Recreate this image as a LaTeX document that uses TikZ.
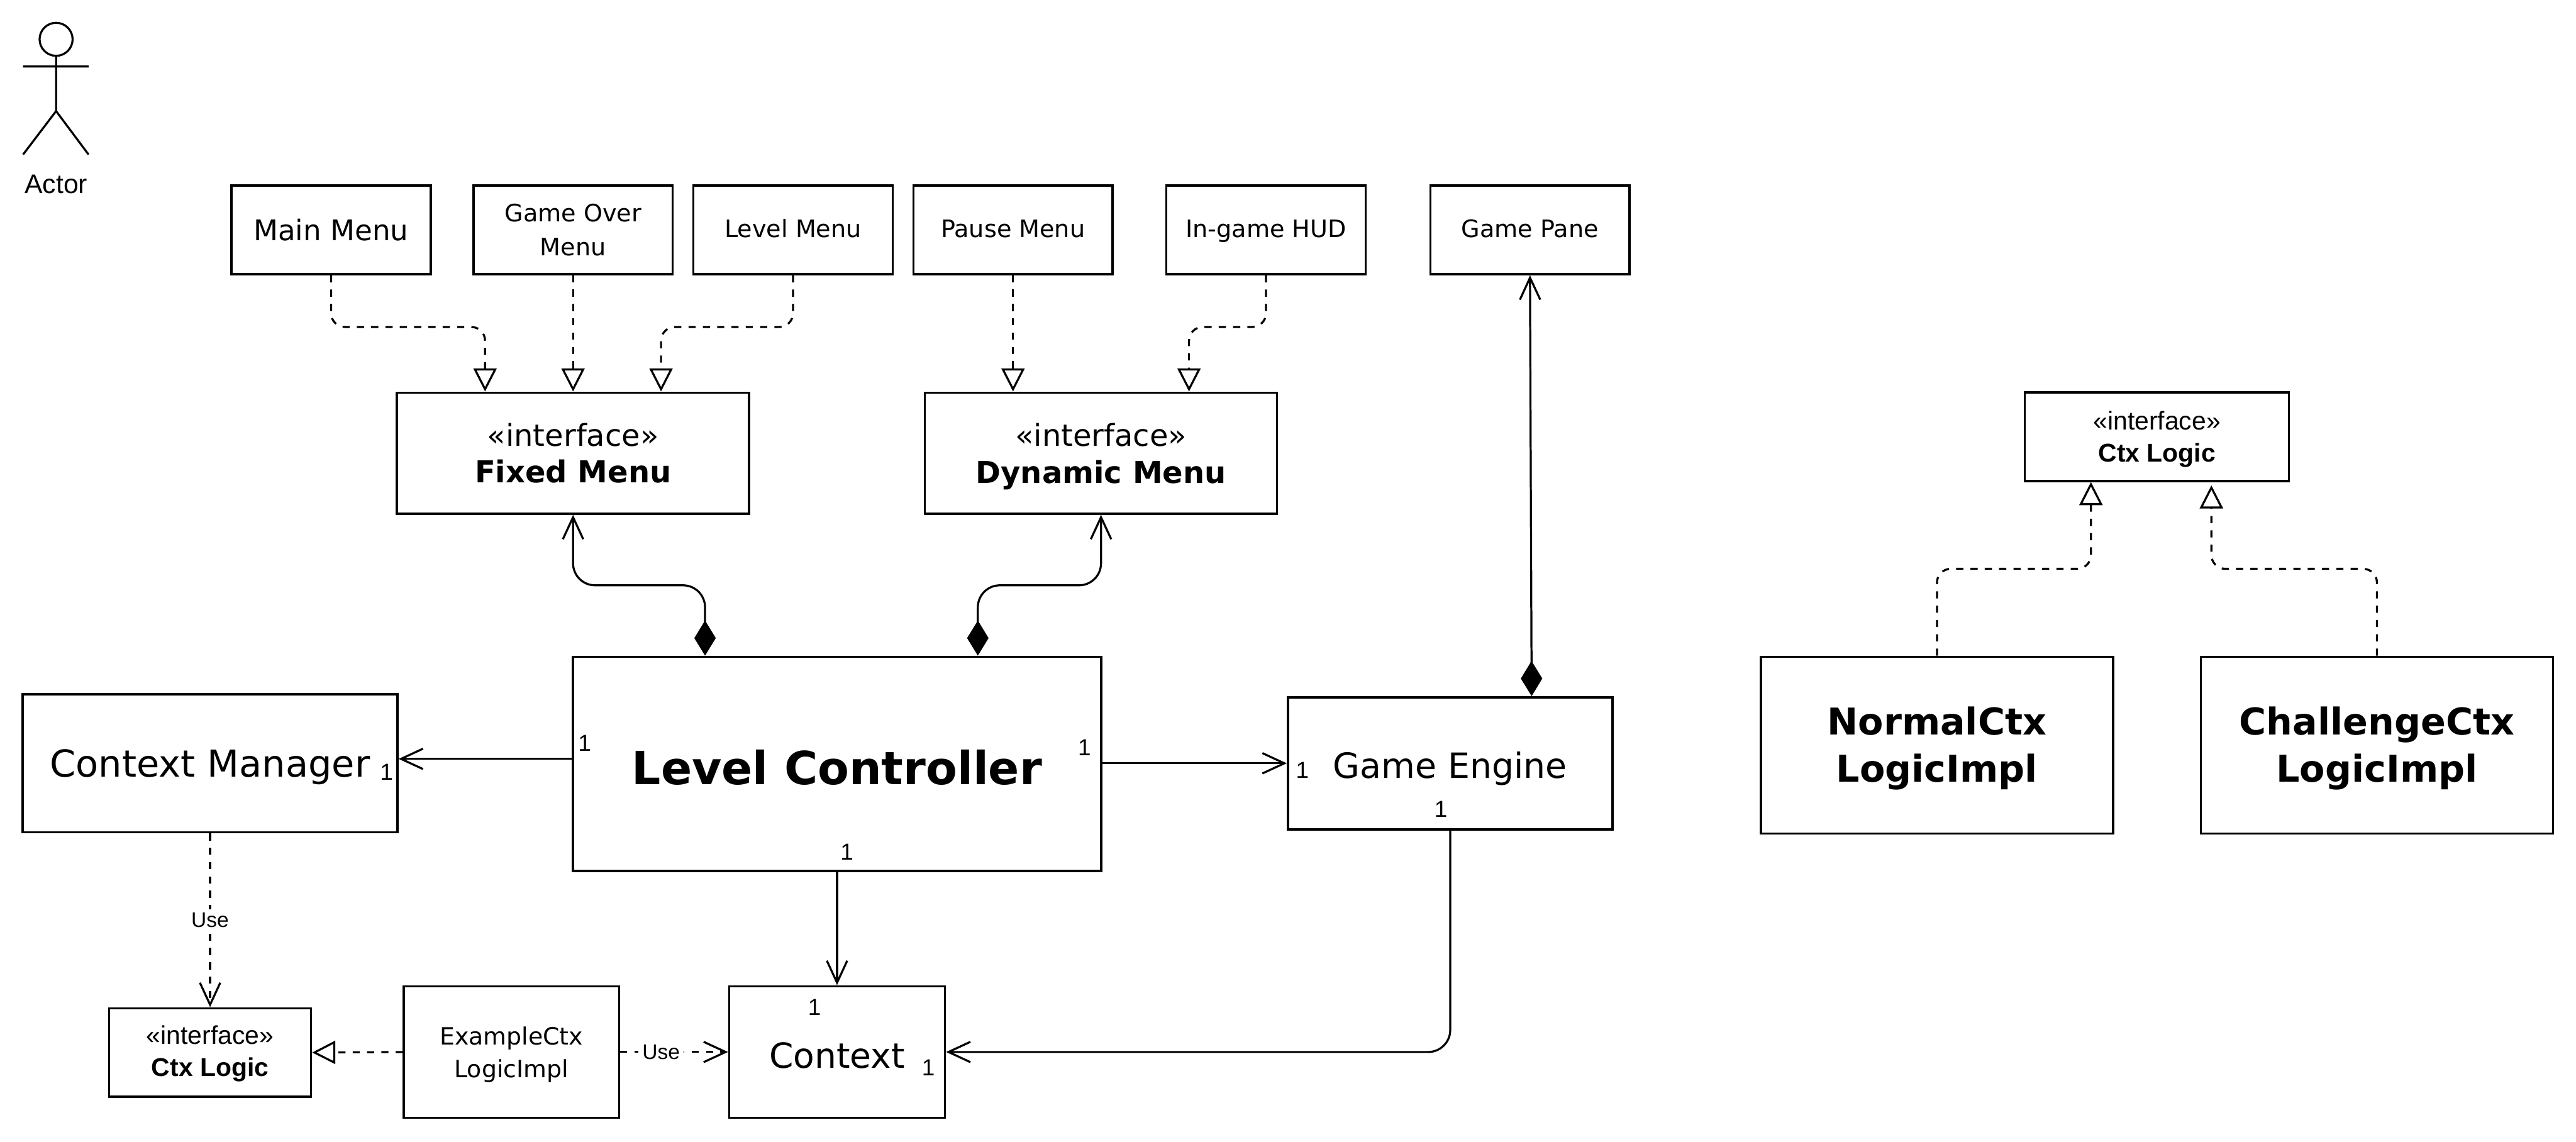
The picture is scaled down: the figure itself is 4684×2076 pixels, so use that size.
\documentclass[tikz,border=0pt]{standalone}
\usepackage{fontspec}
\setmainfont{DejaVu Sans}
\newfontfamily\arialfont{Liberation Sans}
\usetikzlibrary{arrows.meta, calc}

\tikzset{
  box/.style={draw, line width=1.15pt, inner sep=0pt, align=center, text centered},
  smallbox/.style={box, minimum width=3.62cm, minimum height=1.61cm, font=\fontsize{12.4}{17.3}\selectfont},
  oneline/.style={text height=9.4pt, text depth=1.5pt},
  midbox/.style={box, minimum width=6.4cm, minimum height=2.2cm, font=\fontsize{15.6}{19}\selectfont},
  ctxbox/.style={box, minimum height=1.61cm, font=\arialfont\fontsize{13.3}{16.8}\selectfont},
  implbox/.style={box, minimum width=6.4cm, minimum height=3.21cm, text depth=1pt,
    font=\bfseries\fontsize{19.1}{24.5}\selectfont},
  mult/.style={font=\arialfont\fontsize{12}{14}\selectfont, inner sep=0pt},
  uselabel/.style={font=\arialfont\fontsize{10.9}{13}\selectfont, fill=white, inner sep=2pt},
  assoc/.style={line width=1.05pt, -{Straight Barb[length=4mm, width=3.7mm]}},
  comp/.style={line width=1.05pt, rounded corners=.4cm,
    {Diamond[length=6.4mm, width=3.9mm]}-{Straight Barb[length=4mm, width=3.7mm]}},
  depend/.style={line width=1.05pt, dash pattern=on 3.7pt off 3.7pt, -{Straight Barb[length=4mm, width=3.7mm]}},
  realize/.style={line width=1.05pt, dash pattern=on 3.7pt off 3.7pt, rounded corners=.25cm,
    -{Triangle[open, fill=white, length=4.2mm, width=4.2mm]}},
}

\begin{document}
\begin{tikzpicture}[x=0.01cm, y=-0.01cm]
\useasboundingbox (0,0) rectangle (4684,2076);

% --- Actor ---
\draw[line width=1.05pt] (102,71.5) circle (.3cm);
\draw[line width=1.05pt] (102,102) -- (102,202) (42,121) -- (161,121)
  (42,281) -- (102,202) -- (161,281);
\node[font=\arialfont\fontsize{13.9}{16}\selectfont, inner sep=0pt] (actor) at (102,335) {Actor};

% --- Top row ---
\node[smallbox, font=\fontsize{14.7}{19}\selectfont] (mainmenu) at (602,418) {Main Menu};
\node[smallbox] (gameover) at (1042,418) {Game Over\\Menu};
\node[smallbox, oneline] (levelmenu) at (1442,418) {Level Menu};
\node[smallbox, oneline] (pausemenu) at (1842,418) {Pause Menu};
\node[smallbox, oneline] (hud) at (2302,418) {In-game HUD};
\node[smallbox, oneline] (gamepane) at (2782,418) {Game Pane};

% --- Menu interfaces ---
\node[midbox] (fixedmenu) at (1042,824) {«interface»\\\textbf{Fixed Menu}};
\node[midbox, text depth=0pt] (dynmenu) at (2002,824) {«interface»\\\textbf{Dynamic Menu}};

% --- Main row ---
\node[box, minimum width=9.6cm, minimum height=3.89cm, text height=21.4pt,
      font=\bfseries\fontsize{23.6}{28}\selectfont] (levelctrl) at (1522,1389) {Level Controller};
\node[box, minimum width=6.81cm, minimum height=2.51cm, text depth=0pt,
      font=\fontsize{19.2}{25}\selectfont] (ctxmgr) at (382,1388) {Context Manager};
\node[box, minimum width=5.9cm, minimum height=2.4cm, text height=15.7pt, text depth=0pt,
      font=\fontsize{18}{23}\selectfont] (gameengine) at (2637,1388) {Game Engine};

% --- Bottom row ---
\node[box, minimum width=3.92cm, minimum height=2.39cm, text height=17pt,
      font=\fontsize{17.9}{22}\selectfont] (context) at (1522,1913) {Context};
\node[box, minimum width=3.91cm, minimum height=2.39cm, text depth=0pt,
      font=\fontsize{12.3}{17}\selectfont] (exctx) at (930,1913) {ExampleCtx\\LogicImpl};
\node[ctxbox, minimum width=3.67cm, text depth=1.7pt] (ctxlogicA) at (382,1914) {«interface»\\\textbf{Ctx Logic}};

% --- Right group ---
\node[ctxbox, minimum width=4.8cm, text depth=0pt] (ctxlogicB) at (3922,794) {«interface»\\\textbf{Ctx Logic}};
\node[implbox] (normalimpl) at (3522,1355) {NormalCtx\\LogicImpl};
\node[implbox] (challengeimpl) at (4322,1355) {ChallengeCtx\\LogicImpl};

% --- Menus realize interfaces ---
\draw[realize] (mainmenu.south) -- ++(0,94) -| ($(fixedmenu.north)+(-160,0)$);
\draw[realize] (gameover.south) -- (fixedmenu.north);
\draw[realize] (levelmenu.south) -- ++(0,94) -| ($(fixedmenu.north)+(160,0)$);
\draw[realize] (pausemenu.south) -- ($(dynmenu.north)+(-160,0)$);
\draw[realize] (hud.south) -- ++(0,94) -| ($(dynmenu.north)+(160,0)$);

% --- Composition ---
\draw[comp] ($(levelctrl.north)+(-240,0)$) -- ++(0,-128) -| (fixedmenu.south);
\draw[comp] ($(levelctrl.north)+(256,0)$) -- ++(0,-128) -| (dynmenu.south);
\draw[comp] ($(gameengine.north)+(148,0)$) -- (gamepane.south);

% --- Associations ---
\draw[assoc] ($(levelctrl.west)+(0,-9)$) -- ($(ctxmgr.east)+(0,-8)$);
\draw[assoc] ($(levelctrl.east)+(0,-1)$) -- (gameengine.west);
\draw[assoc] (levelctrl.south) -- (context.north);
\draw[assoc, rounded corners=.4cm] (gameengine.south) |- (context.east);

% --- Use ---
\draw[depend] (ctxmgr.south) -- node[uselabel] (use1) {Use} (ctxlogicA.north);
\draw[depend] (exctx.east) -- node[uselabel, pos=.38] (use2) {Use} (context.west);
\draw[realize] (exctx.west) -- (ctxlogicA.east);

% --- Right group realize ---
\draw[realize] (normalimpl.north) -- ++(0,-158) -| ($(ctxlogicB.south)+(-120,0)$);
\draw[realize] (challengeimpl.north) -- ++(0,-158) -| ($(ctxlogicB.south)+(99,6)$);

% --- Multiplicities ---
\node[mult] (m1) at (703,1404) {1};
\node[mult] (m2) at (1063,1352) {1};
\node[mult] (m3) at (1972,1360) {1};
\node[mult] (m4) at (2368,1401) {1};
\node[mult] (m5) at (1540,1549) {1};
\node[mult] (m6) at (2620,1472) {1};
\node[mult] (m7) at (1481,1832) {1};
\node[mult] (m8) at (1688,1941) {1};

\end{tikzpicture}
\end{document}
